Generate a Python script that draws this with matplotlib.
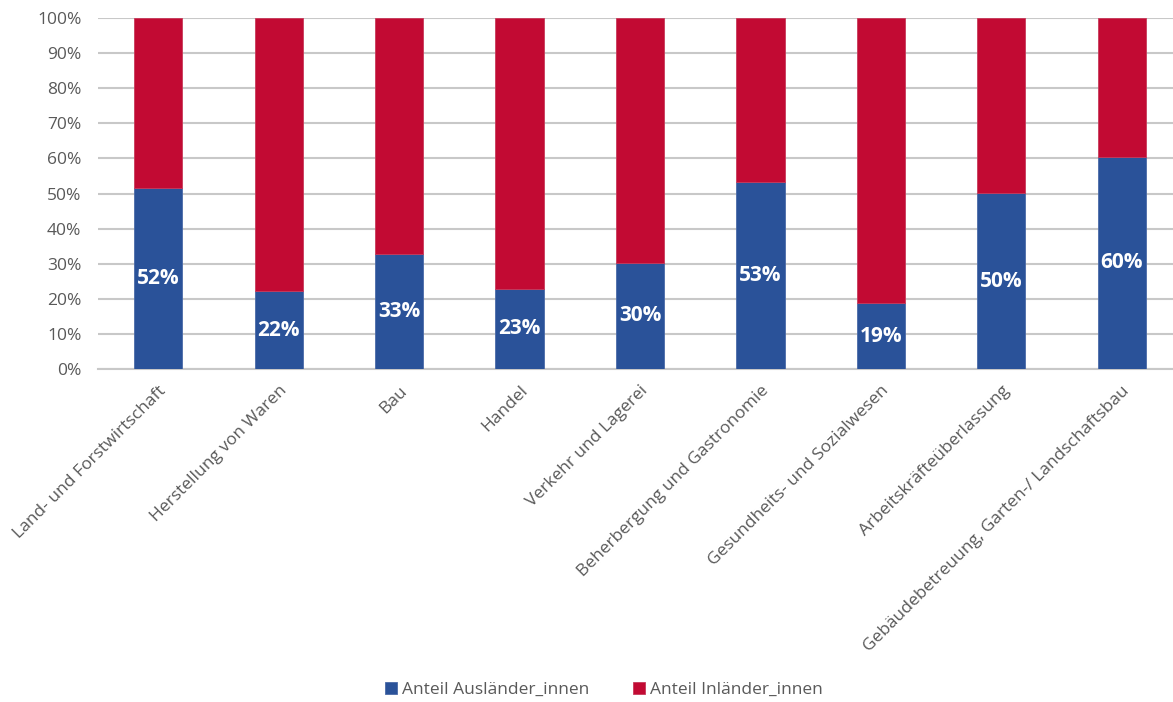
import matplotlib
matplotlib.use('Agg')
import matplotlib.pyplot as plt
import numpy as np

plt.rcParams['font.family'] = ['Open Sans', 'DejaVu Sans']

# categories and shares (percent)
branchen = ['Land- und Forstwirtschaft', 'Herstellung von Waren', 'Bau', 'Handel',
            'Verkehr und Lagerei', 'Beherbergung und Gastronomie',
            'Gesundheits- und Sozialwesen', 'Arbeitskräfteüberlassung',
            'Gebäudebetreuung, Garten-/ Landschaftsbau']
auslaender = [51.6, 22.2, 32.8, 22.8, 30.2, 53.3, 18.8, 50.1, 60.4]
inlaender = [100 - v for v in auslaender]

BLUE = '#2A5299'
RED = '#C20A33'
GREY = '#595959'

fig = plt.figure(figsize=(11.73, 7.02), dpi=100)
ax = fig.add_axes([98/1173, 1 - 369/702, 1084/1173, 351/702])

x = np.arange(len(branchen))
w = 0.4
b1 = ax.bar(x, auslaender, w, color=BLUE, edgecolor='#4a6aa8', linewidth=0.6,
            label='Anteil Ausländer_innen', zorder=3)
b2 = ax.bar(x, inlaender, w, bottom=auslaender, color=RED, edgecolor='#c83a5a',
            linewidth=0.6, label='Anteil Inländer_innen', zorder=3)

for xi, v in zip(x, auslaender):
    ax.text(xi, v / 2, '{:.0f}%'.format(v), ha='center', va='center',
            color='white', fontsize=15, fontweight='bold', zorder=4)

ax.set_xlim(-0.5, len(branchen) - 0.5)
ax.set_ylim(0, 100)
ax.set_yticks(np.arange(0, 101, 10))
ax.set_yticklabels(['{}%'.format(t) for t in range(0, 101, 10)])
ax.yaxis.grid(True, color='#c8c8c8', linewidth=1.5, zorder=0)
ax.set_axisbelow(True)
for s in ['top', 'right', 'left']:
    ax.spines[s].set_visible(False)
ax.spines['bottom'].set_color('#c8c8c8')
ax.spines['bottom'].set_linewidth(1.5)
ax.tick_params(axis='both', length=0, colors=GREY, labelsize=12.5)
ax.tick_params(axis='y', pad=12)
ax.set_xticks(x)
ax.set_xticklabels(branchen, rotation=45, ha='right', rotation_mode='anchor')
ax.tick_params(axis='x', pad=10)

leg = fig.legend(handles=[b1, b2], loc='center', bbox_to_anchor=(0.515, 1 - 690/702),
                 ncol=2, frameon=False, fontsize=12.5, handlelength=0.7,
                 handleheight=0.7, handletextpad=0.3, columnspacing=2.5)
for t in leg.get_texts():
    t.set_color(GREY)

fig.savefig('out.png', dpi=100)
